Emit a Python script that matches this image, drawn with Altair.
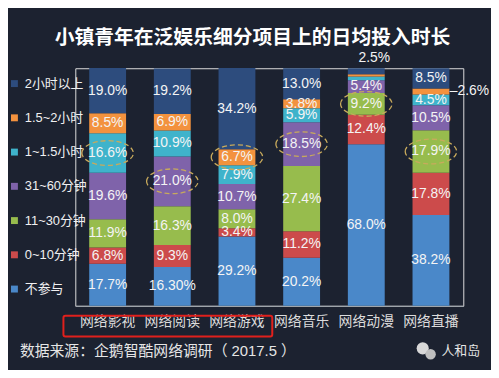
import altair as alt
import pandas as pd

categories = ["网络影视", "网络阅读", "网络游戏", "网络音乐", "网络动漫", "网络直播"]
series = ["不参与", "0~10分钟", "11~30分钟", "31~60分钟", "1~1.5小时", "1.5~2小时", "2小时以上"]
colors = ["#4a88c9", "#cc4b4b", "#97bc4d", "#7f63aa", "#3fb3cb", "#f3923e", "#2d4c7d"]

v_none = [17.7, 16.3, 29.2, 20.2, 68.0, 38.2]
v_0_10 = [6.8, 9.3, 3.4, 11.2, 12.4, 17.8]
v_11_30 = [11.9, 16.3, 8.0, 27.4, 9.2, 17.9]
v_31_60 = [19.6, 21.0, 10.7, 18.5, 5.4, 10.5]
v_1_15h = [16.6, 10.9, 7.9, 5.9, 1.5, 4.5]
v_15_2h = [8.5, 6.9, 6.7, 3.8, 1.0, 2.6]
v_2h_plus = [19.0, 19.2, 34.2, 13.0, 2.5, 8.5]
values = [v_none, v_0_10, v_11_30, v_31_60, v_1_15h, v_15_2h, v_2h_plus]

label_override = {("网络阅读", "不参与"): "16.30%"}
label_hidden = [("网络动漫", "1~1.5小时"), ("网络动漫", "1.5~2小时")]
label_above = [("网络动漫", "2小时以上")]
label_right = [("网络直播", "1.5~2小时")]
highlights = [("网络影视", "1~1.5小时"), ("网络阅读", "31~60分钟"), ("网络游戏", "1.5~2小时"),
              ("网络音乐", "31~60分钟"), ("网络动漫", "11~30分钟"), ("网络直播", "11~30分钟")]

title_text = "小镇青年在泛娱乐细分项目上的日均投入时长"
source_text = "数据来源：企鹅智酷网络调研（  2017.5 ）"
brand_text = "人和岛"

rows = []
for si, (s, vals) in enumerate(zip(series, values)):
    for c, v in zip(categories, vals):
        key = (c, s)
        lab = label_override.get(key, f"{v:.1f}%")
        if key in label_hidden:
            pos = "hide"
        elif key in label_above:
            pos = "above"
        elif key in label_right:
            pos = "right"
            lab = "–" + lab
        else:
            pos = "mid"
        rows.append(dict(cat=c, series=s, rank=si, value=v, label=lab, pos=pos,
                         hl=key in highlights))
df = pd.DataFrame(rows)

legend_order = series[::-1]
legend_colors = colors[::-1]

CJK = "Noto Sans CJK SC"
NUM = "Liberation Sans, Noto Sans CJK SC"

base = alt.Chart(df).transform_stack(
    stack="value", groupby=["cat"], sort=[alt.SortField("rank", order="ascending")], as_=["y0", "y1"]
).transform_calculate(mid="(datum.y0 + datum.y1) / 2")

x = alt.X("cat:N", sort=categories,
          scale=alt.Scale(paddingInner=0.43, paddingOuter=0.215),
          axis=alt.Axis(title=None, labelAngle=0, ticks=False, domainColor="#9aa0a8", domainWidth=1,
                        labelColor="#dcdcdc", labelFontSize=14, labelFont=CJK, labelPadding=9))
yscale = alt.Scale(domain=[0, 100])

bars = base.mark_bar().encode(
    x=x,
    y=alt.Y("y0:Q", scale=yscale, axis=None),
    y2="y1:Q",
    color=alt.Color("series:N", scale=alt.Scale(domain=legend_order, range=legend_colors),
                    legend=alt.Legend(title=None, orient="none", legendX=-68, legendY=9,
                                      symbolType="square", symbolSize=49, symbolStrokeWidth=0,
                                      labelFontSize=13, labelColor="#f0f0f0", labelFont=NUM,
                                      labelOffset=4, rowPadding=20.6, padding=0)),
)

labels = base.transform_filter("datum.pos == 'mid'").mark_text(
    font="Liberation Sans", fontSize=14, color="#f4f4f4"
).encode(x=x, y=alt.Y("mid:Q", scale=yscale, axis=None), text="label:N")

above = base.transform_filter("datum.pos == 'above'").mark_text(
    font="Liberation Sans", fontSize=14, color="#f4f4f4", dy=-10, dx=8
).encode(x=x, y=alt.Y("y1:Q", scale=yscale, axis=None), text="label:N")

right = base.transform_filter("datum.pos == 'right'").mark_text(
    font="Liberation Sans", fontSize=14, color="#f4f4f4", align="left", dx=19
).encode(x=x, y=alt.Y("mid:Q", scale=yscale, axis=None), text="label:N")

ellipse = "M-1,0A1,0.48,0,1,1,1,0A1,0.48,0,1,1,-1,0Z"
rings = base.transform_filter("datum.hl").mark_point(
    shape=ellipse, size=2704, filled=False, stroke="#c8aa5c", strokeWidth=1.3,
    strokeDash=[5, 3], opacity=1
).encode(x=x, y=alt.Y("mid:Q", scale=yscale, axis=None))

one = pd.DataFrame({"k": [0]})
box = alt.Chart(one).mark_rect(
    fillOpacity=0, stroke="#e0201c", strokeWidth=2, cornerRadius=2
).encode(x=alt.value(-12), x2=alt.value(199), y=alt.value(250), y2=alt.value(271))

source = alt.Chart(one).mark_text(
    align="left", baseline="middle", font=NUM, fontSize=15, color="#e6e6e6"
).encode(x=alt.value(-56), y=alt.value(286), text=alt.value(source_text))

brand = alt.Chart(one).mark_text(
    align="left", baseline="middle", font=CJK, fontSize=13, color="#e6e6e6"
).encode(x=alt.value(370), y=alt.value(286), text=alt.value(brand_text))

icon1 = alt.Chart(one).mark_point(filled=True, shape="circle", size=150, color="#d8d8d8", opacity=1).encode(
    x=alt.value(351), y=alt.value(283))
icon2 = alt.Chart(one).mark_point(filled=True, shape="circle", size=110, color="#bfbfbf", opacity=1).encode(
    x=alt.value(359), y=alt.value(289))

chart = alt.layer(bars, labels, above, right, rings, box, source, brand, icon1, icon2).properties(
    width=392, height=240,
    title=alt.TitleParams(title_text, font=CJK, fontSize=20, fontWeight="bold", color="#ffffff",
                          anchor="middle", frame="group", dx=-17, offset=3),
    padding={"left": 68, "top": 59, "right": 28, "bottom": 63},
    autosize=alt.AutoSizeParams(type="none"),
).configure_view(strokeWidth=0).configure(background="#1c2230")

chart.save("out.html", embed_options={"renderer": "svg", "actions": False})
